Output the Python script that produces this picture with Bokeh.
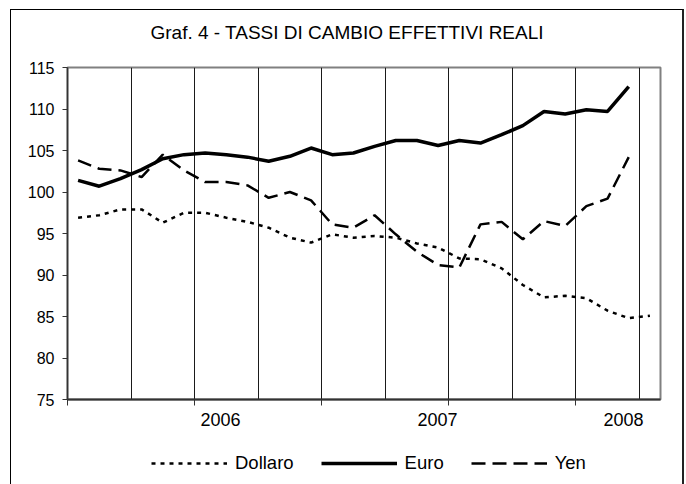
from bokeh.plotting import figure
from bokeh.models import FixedTicker, Legend, LegendItem, Range1d, Div
from bokeh.layouts import column
from bokeh.embed import file_html
from bokeh.resources import INLINE

# Monthly real effective exchange rates (index), 28 months
dollaro = [96.9, 97.2, 97.9, 97.9, 96.3, 97.5, 97.5, 96.9, 96.4, 95.7, 94.5, 93.9, 94.9, 94.5,
           94.7, 94.5, 93.8, 93.3, 92.0, 91.9, 90.8, 88.8, 87.3, 87.5, 87.2, 85.7, 84.8, 85.1]
euro = [101.4, 100.7, 101.6, 102.7, 104.0, 104.5, 104.7, 104.5, 104.2, 103.7, 104.3, 105.3, 104.5, 104.7,
        105.5, 106.2, 106.2, 105.6, 106.2, 105.9, 106.9, 108.0, 109.7, 109.4, 109.9, 109.7, 112.7]
yen = [103.8, 102.8, 102.6, 101.8, 104.5, 102.6, 101.2, 101.2, 100.8, 99.3, 100.0, 99.0, 96.1, 95.7,
       97.2, 94.9, 92.8, 91.2, 90.9, 96.1, 96.4, 94.3, 96.5, 95.9, 98.3, 99.2, 104.2]

n_months = 28
year_labels = ["2006", "2007", "2008"]
year_label_pos = [7.22, 17.47, 26.25]
y_ticks = [75, 80, 85, 90, 95, 100, 105, 110, 115]
x_major_ticks = [0, 6, 12, 18, 24]
x_grid_ticks = [3, 6, 9, 12, 15, 18, 21, 24, 27]
title_text = "Graf. 4 - TASSI DI CAMBIO EFFETTIVI REALI"
series_names = ["Dollaro", "Euro", "Yen"]

FONT = "Liberation Sans"

# ---- title ----
title_div = Div(text=('<div style="box-sizing:border-box;width:686px;padding-top:22px;padding-left:8px;'
                      'text-align:center;font-family:\'Liberation Sans\';font-size:19px;line-height:22px;'
                      'color:#000;white-space:nowrap;">' + title_text + '</div>'),
                width=686, height=58, margin=(0, 0, 0, 0))

# ---- main chart ----
p = figure(width=686, height=382, output_backend="svg", toolbar_location=None,
           x_range=Range1d(0, n_months), y_range=Range1d(75, 115),
           min_border_left=67, min_border_right=26, min_border_top=9, min_border_bottom=41)
p.title = None
p.background_fill_color = "white"
p.border_fill_color = "white"
p.outline_line_color = "#808080"
p.outline_line_width = 2

xs_d = [i + 0.5 for i in range(len(dollaro))]
xs_e = [i + 0.5 for i in range(len(euro))]
xs_y = [i + 0.5 for i in range(len(yen))]

DOLLAR_STYLE = dict(line_color="black", line_width=2.5, line_dash="4 5")
EURO_STYLE = dict(line_color="black", line_width=3.5)
YEN_STYLE = dict(line_color="black", line_width=2.5, line_dash="14 7")

p.line(xs_d, dollaro, **DOLLAR_STYLE)
p.line(xs_e, euro, **EURO_STYLE)
p.line(xs_y, yen, **YEN_STYLE)

p.ygrid.visible = False
p.xgrid.ticker = FixedTicker(ticks=x_grid_ticks)
p.xgrid.grid_line_color = "#1a1a1a"
p.xgrid.grid_line_width = 1

p.yaxis.ticker = FixedTicker(ticks=y_ticks)
p.yaxis.major_tick_out = 5
p.yaxis.major_tick_in = 0
p.yaxis.minor_tick_line_color = None
p.yaxis.axis_line_color = "#333333"
p.yaxis.axis_line_width = 1.5
p.yaxis.major_tick_line_color = "#333333"
p.yaxis.major_label_text_font = FONT
p.yaxis.major_label_text_font_size = "16px"
p.yaxis.major_label_text_color = "#000000"
p.yaxis.major_label_standoff = 8

# x axis: year labels as major ticks (no tick marks), half-year tick marks as minor ticks
p.xaxis.ticker = FixedTicker(ticks=year_label_pos, minor_ticks=x_major_ticks)
p.xaxis.major_label_overrides = {xp: t for xp, t in zip(year_label_pos, year_labels)}
p.xaxis.major_tick_line_color = None
p.xaxis.major_tick_out = 0
p.xaxis.major_tick_in = 0
p.xaxis.minor_tick_line_color = "#333333"
p.xaxis.minor_tick_out = 6
p.xaxis.minor_tick_in = 0
p.xaxis.axis_line_color = "#333333"
p.xaxis.axis_line_width = 2
p.xaxis.major_label_standoff = 7
p.xaxis.major_label_text_font = FONT
p.xaxis.major_label_text_font_size = "18px"
p.xaxis.major_label_text_color = "#000000"

# ---- legend strip (series drawn outside its visible range, only the legend shows) ----
lg = figure(width=686, height=44, output_backend="svg", toolbar_location=None,
            x_range=Range1d(0, n_months), y_range=Range1d(0, 1),
            x_axis_location=None, y_axis_location=None, min_border=0)
lg.title = None
lg.outline_line_color = None
lg.xgrid.visible = False
lg.ygrid.visible = False
l_d = lg.line(xs_d, dollaro, **DOLLAR_STYLE)
l_e = lg.line(xs_e, euro, **EURO_STYLE)
l_y = lg.line(xs_y, yen, **YEN_STYLE)

legend = Legend(items=[LegendItem(label=series_names[0], renderers=[l_d]),
                       LegendItem(label=series_names[1], renderers=[l_e]),
                       LegendItem(label=series_names[2], renderers=[l_y])],
                orientation="horizontal", location=(84, 10))
legend.glyph_width = 76
legend.glyph_height = 14
legend.label_standoff = 8
legend.spacing = 27
legend.padding = 0
legend.margin = 0
legend.border_line_color = None
legend.background_fill_alpha = 0
legend.label_text_font = FONT
legend.label_text_font_size = "18.5px"
legend.label_text_color = "#000000"
lg.add_layout(legend)

frame_css = (":host { position: relative; } "
             ":host::after { content: ''; position: absolute; left: 10px; top: 9px; width: 674px; "
             "height: 475px; box-sizing: border-box; border: 1px solid #000; border-bottom: none; "
             "border-right: 2px solid #222; pointer-events: none; }")

layout = column(title_div, p, lg, spacing=0, stylesheets=[frame_css])

open("out.html", "w").write(file_html(layout, INLINE))
